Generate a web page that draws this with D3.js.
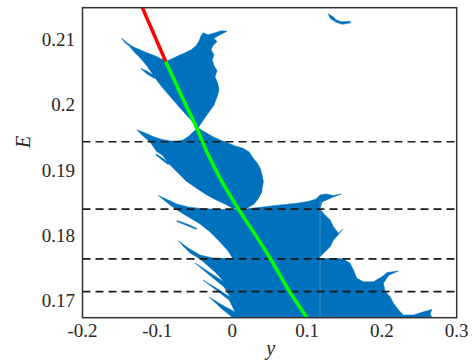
<!DOCTYPE html>
<html>
<head>
<meta charset="utf-8">
<script src="https://cdn.jsdelivr.net/npm/d3@7"></script>
<style>
  html, body { margin: 0; padding: 0; background: #fff; }
  svg { display: block; }
</style>
</head>
<body>
<svg id="chart" width="474" height="362"></svg>
<script>
// Axis ranges and tick labels
const xDomain = [-0.2, 0.3];
const eDomain = [0.1674, 0.2148];
const xTicks = [-0.2, -0.1, 0, 0.1, 0.2, 0.3];
const xTickLabels = ["-0.2", "-0.1", "0", "0.1", "0.2", "0.3"];
const eTicks = [0.17, 0.18, 0.19, 0.2, 0.21];
const eTickLabels = ["0.17", "0.18", "0.19", "0.2", "0.21"];

// Energy levels marked by dashed lines
const levelsE = [0.1943, 0.1840, 0.1764, 0.1714];

// Region boundaries as [y, E] outlines
const lobeA = [[-0.1476,0.21015],[-0.1405,0.20943],[-0.1325,0.20882],[-0.1231,0.20836],[-0.1138,0.20790],[-0.1031,0.20744],[-0.0951,0.20698],[-0.0884,0.20660],[-0.0804,0.20698],[-0.0723,0.20744],[-0.0630,0.20790],[-0.0549,0.20836],[-0.0483,0.20897],[-0.0442,0.20974],[-0.0416,0.21050],[-0.0389,0.21096],[-0.0322,0.21065],[-0.0229,0.21096],[-0.0148,0.21127],[-0.0068,0.21119],[-0.0162,0.21065],[-0.0242,0.21012],[-0.0202,0.20960],[-0.0255,0.20905],[-0.0282,0.20836],[-0.0242,0.20759],[-0.0268,0.20683],[-0.0242,0.20591],[-0.0202,0.20515],[-0.0230,0.20423],[-0.0195,0.20331],[-0.0175,0.20224],[-0.0202,0.20117],[-0.0242,0.19994],[-0.0309,0.19887],[-0.0376,0.19780],[-0.0429,0.19688],[-0.0456,0.19642],[-0.0563,0.19780],[-0.0697,0.19948],[-0.0830,0.20121],[-0.0951,0.20285],[-0.1031,0.20407],[-0.1084,0.20499],[-0.1151,0.20606],[-0.1231,0.20713],[-0.1312,0.20805],[-0.1378,0.20897],[-0.1432,0.20943]];
const featherA = [[-0.1218,0.20556],[-0.1124,0.20499],[-0.1017,0.20423],[-0.1044,0.20400],[-0.1138,0.20468],[-0.1218,0.20545]];

const lobeB = [[-0.1275,0.19612],[-0.1164,0.19566],[-0.1057,0.19509],[-0.0937,0.19466],[-0.0830,0.19443],[-0.0737,0.19443],[-0.0656,0.19459],[-0.0576,0.19520],[-0.0509,0.19596],[-0.0456,0.19642],[-0.0389,0.19596],[-0.0336,0.19561],[-0.0255,0.19505],[-0.0162,0.19459],[-0.0055,0.19413],[0.0039,0.19367],[0.0146,0.19332],[0.0226,0.19275],[0.0279,0.19183],[0.0333,0.19107],[0.0373,0.19030],[0.0400,0.18923],[0.0417,0.18816],[0.0400,0.18724],[0.0396,0.18663],[0.0346,0.18556],[0.0293,0.18479],[0.0213,0.18426],[0.0132,0.18395],[-0.0001,0.18418],[-0.0072,0.18464],[-0.0215,0.18541],[-0.0340,0.18617],[-0.0483,0.18724],[-0.0607,0.18821],[-0.0737,0.18969],[-0.0830,0.19076],[-0.0937,0.19229],[-0.1008,0.19280],[-0.1098,0.19428],[-0.1191,0.19520]];
const featherB = [[-0.1017,0.19245],[-0.0924,0.19176],[-0.0830,0.19099],[-0.0857,0.19084],[-0.0937,0.19152],[-0.1011,0.19222]];

const lobeC = [[-0.0987,0.18609],[-0.0884,0.18556],[-0.0741,0.18479],[-0.0590,0.18434],[-0.0429,0.18411],[-0.0229,0.18398],[0.0106,0.18395],[0.0413,0.18434],[0.0640,0.18464],[0.0864,0.18490],[0.1015,0.18518],[0.1122,0.18556],[0.1175,0.18617],[0.1255,0.18632],[0.1349,0.18609],[0.1456,0.18632],[0.1322,0.18571],[0.1202,0.18510],[0.1175,0.18403],[0.1219,0.18337],[0.1309,0.18235],[0.1353,0.18132],[0.1420,0.18031],[0.1483,0.18097],[0.1402,0.17990],[0.1353,0.17929],[0.1309,0.17826],[0.1198,0.17699],[0.1148,0.17638],[0.0012,0.17638],[-0.0055,0.17760],[-0.0162,0.17898],[-0.0295,0.18051],[-0.0429,0.18173],[-0.0563,0.18265],[-0.0697,0.18357],[-0.0830,0.18464]];
const featherC = [[-0.0737,0.18227],[-0.0603,0.18173],[-0.0469,0.18105],[-0.0483,0.18092],[-0.0616,0.18153],[-0.0737,0.18212]];

const lobeD = [[-0.0719,0.17918],[-0.0590,0.17806],[-0.0429,0.17699],[-0.0255,0.17653],[0.0012,0.17645],[0.1148,0.17645],[0.1442,0.17645],[0.1509,0.17623],[0.1576,0.17572],[0.1620,0.17470],[0.1666,0.17342],[0.1754,0.17290],[0.1888,0.17290],[0.2000,0.17367],[0.2071,0.17431],[0.2222,0.17454],[0.2098,0.17393],[0.2067,0.17347],[0.2021,0.17266],[0.2044,0.17137],[0.2111,0.17061],[0.2155,0.16960],[0.2222,0.16857],[0.2289,0.16781],[0.2422,0.16781],[0.2556,0.16831],[0.2668,0.16865],[0.2646,0.16796],[0.2686,0.1670],[0.0052,0.1670],[-0.0135,0.16873],[-0.0309,0.17056],[-0.0135,0.16934],[0.0039,0.16827],[-0.0041,0.17010],[-0.0215,0.17163],[-0.0389,0.17316],[-0.0215,0.17194],[-0.0028,0.17056],[-0.0108,0.17209],[-0.0322,0.17408],[-0.0496,0.17577],[-0.0322,0.17447],[-0.0108,0.17286],[-0.0215,0.17424],[-0.0336,0.17546],[-0.0429,0.17638],[-0.0563,0.17730],[-0.0656,0.17837]];

const islet = [[0.1282,0.21387],[0.1349,0.21341],[0.1389,0.21295],[0.1456,0.21264],[0.1563,0.21272],[0.1590,0.21249],[0.1470,0.21226],[0.1389,0.21257],[0.1309,0.21318]];

// Seam inside the filled region
const seamY = 0.1175;
const seamE = [0.1852, 0.1670];

// Curves
const redCurve = [[-0.1230,0.2156],[-0.0888,0.20657]];
const greenCurve = [[-0.0888,0.20657],[-0.0683,0.20148],[-0.0473,0.19638],[-0.0340,0.19280],[-0.0162,0.18873],[0.0119,0.18337],[0.0239,0.18132],[0.0507,0.17649],[0.0754,0.17164],[0.1000,0.1674]];

const regions = [lobeA, featherA, lobeB, featherB, lobeC, featherC, lobeD, islet];

// Layout
const plot = { left: 82.5, right: 456.7, top: 7.7, bottom: 317.7 };
const serif = "'Liberation Serif', 'DejaVu Serif', 'Times New Roman', serif";
const svg = d3.select("#chart");

const x = d3.scaleLinear().domain(xDomain).range([plot.left, plot.right]);
const yE = d3.scaleLinear().domain(eDomain).range([plot.bottom, plot.top]);

svg.append("defs").append("clipPath").attr("id", "plot-clip")
  .append("rect")
  .attr("x", plot.left).attr("y", plot.top)
  .attr("width", plot.right - plot.left).attr("height", plot.bottom - plot.top);

const g = svg.append("g").attr("clip-path", "url(#plot-clip)");

const outline = d3.line().x(d => x(d[0])).y(d => yE(d[1]));

// Filled region
g.append("g").selectAll("path")
  .data(regions)
  .join("path")
  .attr("d", d => outline(d) + "Z")
  .attr("fill", "#0072BD")
  .attr("stroke", "#0072BD")
  .attr("stroke-width", 0.5)
  .attr("stroke-linejoin", "round");

g.append("line")
  .attr("x1", x(seamY)).attr("x2", x(seamY))
  .attr("y1", yE(seamE[0])).attr("y2", yE(seamE[1]))
  .attr("stroke", "rgba(255,255,255,0.22)")
  .attr("stroke-width", 1);

// Dashed levels
g.append("g").selectAll("line")
  .data(levelsE)
  .join("line")
  .attr("x1", plot.left).attr("x2", plot.right)
  .attr("y1", d => yE(d)).attr("y2", d => yE(d))
  .attr("stroke", "#1a1a1a")
  .attr("stroke-width", 1.7)
  .attr("stroke-dasharray", "8,5");

// Curves
const curveLine = d3.line().x(d => x(d[0])).y(d => yE(d[1])).curve(d3.curveCatmullRom);
g.append("path").attr("d", curveLine(redCurve))
  .attr("fill", "none").attr("stroke", "#ff0000").attr("stroke-width", 3.5);
g.append("path").attr("d", curveLine(greenCurve))
  .attr("fill", "none").attr("stroke", "#00ff00").attr("stroke-width", 3.5)
  .attr("stroke-linecap", "butt");

// Frame
svg.append("rect")
  .attr("x", plot.left).attr("y", plot.top)
  .attr("width", plot.right - plot.left).attr("height", plot.bottom - plot.top)
  .attr("fill", "none").attr("stroke", "#333").attr("stroke-width", 1.5);

// Tick labels
svg.append("g").selectAll("text")
  .data(xTicks)
  .join("text")
  .attr("font-family", serif)
  .attr("font-size", 19)
  .attr("fill", "#262626")
  .attr("x", d => x(d))
  .attr("y", 337)
  .attr("text-anchor", "middle")
  .text((d, i) => xTickLabels[i]);

svg.append("g").selectAll("text")
  .data(eTicks)
  .join("text")
  .attr("font-family", serif)
  .attr("font-size", 19)
  .attr("fill", "#262626")
  .attr("x", 75)
  .attr("y", d => yE(d))
  .attr("dy", "0.35em")
  .attr("text-anchor", "end")
  .text((d, i) => eTickLabels[i]);

// Axis titles
svg.append("text")
  .attr("font-family", serif)
  .attr("font-size", 20)
  .attr("font-style", "italic")
  .attr("fill", "#262626")
  .attr("transform", "translate(30,142) rotate(-90)")
  .attr("text-anchor", "middle")
  .text("E");

svg.append("text")
  .attr("font-family", serif)
  .attr("font-size", 20)
  .attr("font-style", "italic")
  .attr("fill", "#262626")
  .attr("x", (plot.left + plot.right) / 2 + 1)
  .attr("y", 355)
  .attr("text-anchor", "middle")
  .text("y");
</script>
</body>
</html>
